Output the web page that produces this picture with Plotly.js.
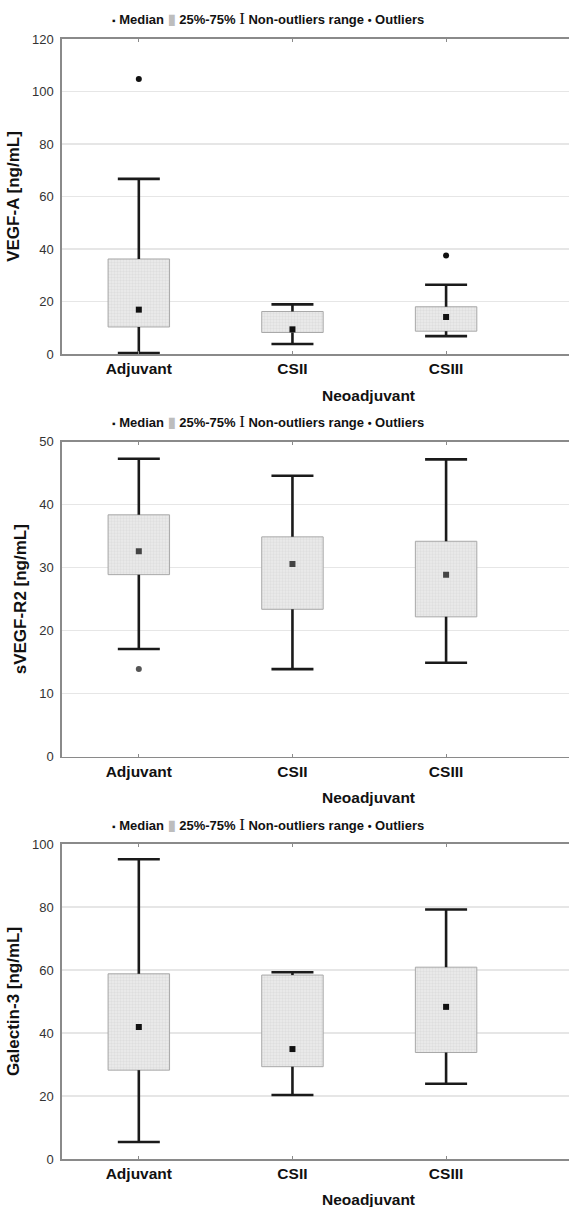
<!DOCTYPE html>
<html>
<head>
<meta charset="utf-8">
<script src="https://cdn.plot.ly/plotly-3.0.1.min.js"></script>
<style>html,body{margin:0;padding:0;background:#fff;overflow:hidden;}#chart{width:569px;height:1207px;}</style>
</head>
<body>
<div id="chart"></div>
<script>
// ---- data ----
const categories = ['Adjuvant', 'CSII', 'CSIII'];

const vegfTitle = 'VEGF-A [ng/mL]';
const vegfQ1 = [10.3, 8.2, 8.7];
const vegfMedian = [16.9, 9.4, 14.1];
const vegfQ3 = [36.2, 16.2, 18.0];
const vegfLow = [0.4, 3.8, 6.8];
const vegfHigh = [66.7, 18.9, 26.4];
const vegfOutCat = ['Adjuvant', 'CSIII'];
const vegfOutVal = [104.8, 37.5];
const vegfTicks = [0, 20, 40, 60, 80, 100, 120];

const r2Title = 'sVEGF-R2 [ng/mL]';
const r2Q1 = [28.9, 23.4, 22.2];
const r2Median = [32.6, 30.6, 28.9];
const r2Q3 = [38.4, 34.9, 34.2];
const r2Low = [17.1, 13.9, 14.9];
const r2High = [47.3, 44.6, 47.2];
const r2OutCat = ['Adjuvant'];
const r2OutVal = [13.9];
const r2Ticks = [0, 10, 20, 30, 40, 50];

const galTitle = 'Galectin-3 [ng/mL]';
const galQ1 = [28.2, 29.3, 33.8];
const galMedian = [41.9, 34.9, 48.3];
const galQ3 = [58.8, 58.4, 60.9];
const galLow = [5.4, 20.3, 23.9];
const galHigh = [95.2, 59.3, 79.2];
const galOutCat = [];
const galOutVal = [];
const galTicks = [0, 20, 40, 60, 80, 100];

const xTitle = 'Neoadjuvant';
const legendParts = ['Median', '25%-75%', 'Non-outliers range', 'Outliers'];

// ---- build ----
const panels = [
  {title: vegfTitle, q1: vegfQ1, med: vegfMedian, q3: vegfQ3, lo: vegfLow, hi: vegfHigh, oc: vegfOutCat, ov: vegfOutVal, ticks: vegfTicks, dom: [0.7067, 0.9677], medColor: '#111', outColor: '#111'},
  {title: r2Title, q1: r2Q1, med: r2Median, q3: r2Q3, lo: r2Low, hi: r2High, oc: r2OutCat, ov: r2OutVal, ticks: r2Ticks, dom: [0.3731, 0.6340], medColor: '#444', outColor: '#555'},
  {title: galTitle, q1: galQ1, med: galMedian, q3: galQ3, lo: galLow, hi: galHigh, oc: galOutCat, ov: galOutVal, ticks: galTicks, dom: [0.0398, 0.3007], medColor: '#111', outColor: '#111'}
];

const traces = [];
const layout = {
  width: 569, height: 1207,
  margin: {l: 62, r: 0, t: 0, b: 0},
  paper_bgcolor: '#fff', plot_bgcolor: '#fff',
  showlegend: false,
  barmode: 'overlay',
  font: {family: 'Liberation Sans, Arial, sans-serif', color: '#222'},
  annotations: []
};

const legendText =
  '<span style="font-size:10px">\u25AA</span> ' + legendParts[0] +
  ' <span style="color:#bdbdbd;font-size:14px">\u25AE</span> ' + legendParts[1] +
  ' <span style="font-family:Liberation Serif;font-weight:normal;font-size:17px">I</span> ' + legendParts[2] +
  ' <span style="font-size:11px">\u2022</span> ' + legendParts[3];

panels.forEach((p, i) => {
  const n = i === 0 ? '' : String(i + 1);
  const xa = 'x' + n, ya = 'y' + n;
  // box 25-75%
  traces.push({
    type: 'bar', x: categories, base: p.q1, y: p.q3.map((v, k) => v - p.q1[k]),
    width: 0.4, xaxis: xa, yaxis: ya,
    marker: {color: '#e4e4e4', line: {color: '#a8a8a8', width: 1},
      pattern: {shape: '+', size: 3, solidity: 0.15, fgcolor: '#d0d0d0', bgcolor: '#e9e9e9'}},
    hoverinfo: 'skip'
  });
  // whiskers
  const wx = [], wy = [];
  categories.forEach((c, k) => {
    wx.push(c, c, null, c, c, null);
    wy.push(p.q3[k], p.hi[k], null, p.q1[k], p.lo[k], null);
  });
  traces.push({type: 'scatter', mode: 'lines', x: wx, y: wy, xaxis: xa, yaxis: ya,
    line: {color: '#1a1a1a', width: 2.6}, hoverinfo: 'skip'});
  // caps
  traces.push({type: 'scatter', mode: 'markers', x: categories.concat(categories), y: p.hi.concat(p.lo),
    xaxis: xa, yaxis: ya,
    marker: {symbol: 'line-ew', size: 30, line: {color: '#1a1a1a', width: 2.6}}, hoverinfo: 'skip'});
  // median
  traces.push({type: 'scatter', mode: 'markers', x: categories, y: p.med, xaxis: xa, yaxis: ya,
    marker: {symbol: 'square', size: 6, color: p.medColor}, hoverinfo: 'skip'});
  // outliers
  traces.push({type: 'scatter', mode: 'markers', x: p.oc, y: p.ov, xaxis: xa, yaxis: ya,
    marker: {symbol: 'circle', size: 6, color: p.outColor}, hoverinfo: 'skip'});

  layout['xaxis' + n] = {
    anchor: ya, domain: [0, 1], type: 'category', range: [-0.5, 2.8],
    showline: true, linecolor: '#8a8a8a', linewidth: 1.6, mirror: 'ticks',
    ticks: 'inside', ticklen: 3, tickcolor: '#8a8a8a', tickwidth: 1,
    showgrid: false, fixedrange: true,
    tickfont: {size: 15.5, weight: 'bold', color: '#111'}
  };
  layout['yaxis' + n] = {
    anchor: xa, domain: p.dom, range: [p.ticks[0], p.ticks[p.ticks.length - 1]],
    tickvals: p.ticks, showline: true, linecolor: '#8a8a8a', linewidth: 1.6,
    ticks: '', ticklabelstandoff: 4, showgrid: true, gridcolor: '#e6e6e6', gridwidth: 1.5,
    zeroline: false, fixedrange: true,
    tickfont: {size: 13, color: '#333'},
    title: {text: p.title, font: {size: 17, weight: 'bold', color: '#111'}, standoff: 8}
  };
  layout.annotations.push({
    xref: 'paper', yref: ya + ' domain', x: 0.406, y: 1, yshift: 20,
    xanchor: 'center', yanchor: 'middle', showarrow: false,
    text: legendText, font: {size: 13, weight: 'bold', color: '#111'}
  });
  layout.annotations.push({
    xref: 'paper', yref: ya + ' domain', x: 0.6055, y: 0, yshift: -41,
    xanchor: 'center', yanchor: 'middle', showarrow: false,
    text: xTitle, font: {size: 15.5, weight: 'bold', color: '#111'}
  });
});

Plotly.newPlot('chart', traces, layout, {staticPlot: true});
</script>
</body>
</html>
